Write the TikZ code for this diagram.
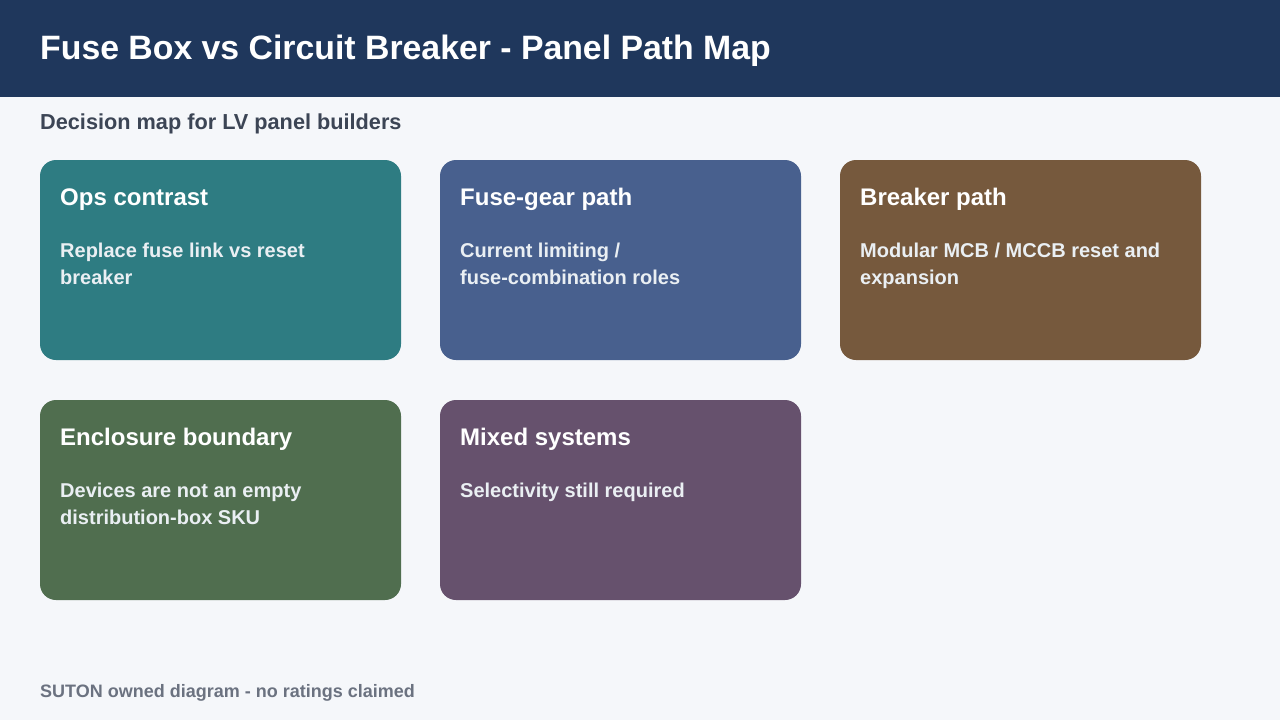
\documentclass[tikz,border=0pt]{standalone}
\usepackage{fontspec}
\setmainfont{Liberation Sans}
\definecolor{bg}{HTML}{F5F7FA}
\definecolor{header}{HTML}{1F375C}
\definecolor{subt}{HTML}{3C4555}
\definecolor{foot}{HTML}{6B7280}
\definecolor{cteal}{HTML}{2E7C82}
\definecolor{cblue}{HTML}{48608E}
\definecolor{cbrown}{HTML}{76593D}
\definecolor{cgreen}{HTML}{506E4F}
\definecolor{cpurple}{HTML}{66516D}
\definecolor{bodytxt}{HTML}{EAEFF3}
\tikzset{
  card/.style={rounded corners=16pt, draw=none},
  cardtitle/.style={anchor=base west, inner sep=0pt, text=white, font=\bfseries\fontsize{24}{28}\selectfont},
  cardbody/.style={anchor=base west, inner sep=0pt, text=bodytxt, font=\bfseries\fontsize{20}{24}\selectfont},
}
\begin{document}
\begin{tikzpicture}[x=1pt,y=-1pt]
\useasboundingbox (0,0) rectangle (1280,720);
\fill[bg] (0,0) rectangle (1280,720);
\fill[header] (0,0) rectangle (1280,97);
\node[anchor=base west, inner sep=0pt, text=white, font=\bfseries\fontsize{33.8}{38}\selectfont] (title) at (40,59) {Fuse Box vs Circuit Breaker - Panel Path Map};
\node[anchor=base west, inner sep=0pt, text=subt, font=\bfseries\fontsize{21.7}{26}\selectfont] (subtitle) at (40,129) {Decision map for LV panel builders};

\fill[card, cteal] (40,160) rectangle (401,360);
\node[cardtitle] (t1) at (60,205) {Ops contrast};
\node[cardbody] (b1a) at (60,257) {Replace fuse link vs reset};
\node[cardbody] (b1b) at (60,284) {breaker};

\fill[card, cblue] (440,160) rectangle (801,360);
\node[cardtitle] (t2) at (460,205) {Fuse-gear path};
\node[cardbody] (b2a) at (460,257) {Current limiting /};
\node[cardbody] (b2b) at (460,284) {fuse-combination roles};

\fill[card, cbrown] (840,160) rectangle (1201,360);
\node[cardtitle] (t3) at (860,205) {Breaker path};
\node[cardbody] (b3a) at (860,257) {Modular MCB / MCCB reset and};
\node[cardbody] (b3b) at (860,284) {expansion};

\fill[card, cgreen] (40,400) rectangle (401,600);
\node[cardtitle] (t4) at (60,445) {Enclosure boundary};
\node[cardbody] (b4a) at (60,497) {Devices are not an empty};
\node[cardbody] (b4b) at (60,524) {distribution-box SKU};

\fill[card, cpurple] (440,400) rectangle (801,600);
\node[cardtitle] (t5) at (460,445) {Mixed systems};
\node[cardbody] (b5a) at (460,497) {Selectivity still required};

\node[anchor=base west, inner sep=0pt, text=foot, font=\bfseries\fontsize{18}{22}\selectfont] (footer) at (40,697) {SUTON owned diagram - no ratings claimed};
\end{tikzpicture}
\end{document}
